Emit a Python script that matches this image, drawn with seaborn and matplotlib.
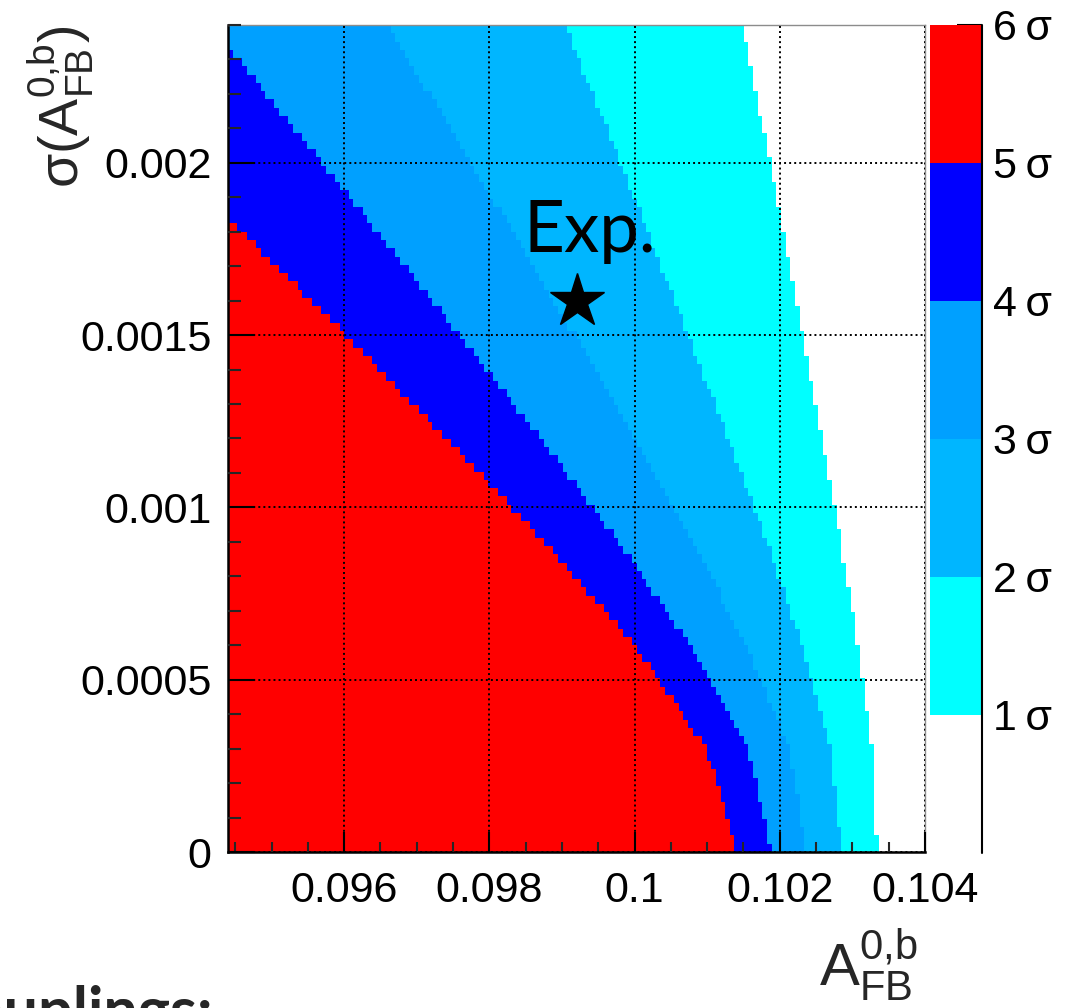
import numpy as np
import pandas as pd
import matplotlib
matplotlib.use("Agg")
import matplotlib.pyplot as plt
import seaborn as sns
from matplotlib.colors import ListedColormap, Normalize
from matplotlib.cm import ScalarMappable
from matplotlib.ticker import MultipleLocator

# ---------------- data ----------------
# sigma(A_FB) values at which the band edges were read
sigma_samples = [0.0, 0.0003, 0.0006, 0.0009, 0.0012, 0.0015, 0.0018, 0.0021, 0.0024]
# A_FB position of each n-sigma contour at those sigma values
edge_1sigma = [0.10334, 0.10327, 0.10308, 0.10284, 0.10259, 0.10232, 0.10205, 0.10177, 0.10149]
edge_2sigma = [0.10285, 0.10270, 0.10231, 0.10182, 0.10129, 0.10074, 0.10018, 0.09962, 0.09904]
edge_3sigma = [0.10237, 0.10213, 0.10154, 0.10080, 0.10000, 0.09917, 0.09832, 0.09746, 0.09660]
edge_4sigma = [0.10189, 0.10156, 0.10077, 0.09978, 0.09871, 0.09759, 0.09646, 0.09531, 0.09415]
edge_5sigma = [0.10141, 0.10099, 0.10000, 0.09876, 0.09741, 0.09602, 0.09459, 0.09315, 0.09170]

band_colors = ["#FFFFFF", "#00FFFF", "#00B6FF", "#00A0FF", "#0000FF", "#FF0000"]
cbar_ticks = [1, 2, 3, 4, 5, 6]
cbar_labels = ["1\u2009σ", "2\u2009σ", "3\u2009σ", "4\u2009σ", "5\u2009σ", "6\u2009σ"]

x_ticks = [0.096, 0.098, 0.100, 0.102, 0.104]
x_tick_labels = ["0.096", "0.098", "0.1", "0.102", "0.104"]
y_ticks = [0.0, 0.0005, 0.0010, 0.0015, 0.0020]
y_tick_labels = ["0", "0.0005", "0.001", "0.0015", "0.002"]

exp_A = 0.0992
exp_sigma = 0.0016

x_range = (0.0944, 0.1040)
y_range = (0.0, 0.0024)
n_xbins, n_ybins = 150, 100

# ---------------- style ----------------
sns.set_style("ticks")
plt.rcParams["font.family"] = ["Liberation Sans", "DejaVu Sans"]
plt.rcParams["mathtext.fontset"] = "custom"
plt.rcParams["mathtext.rm"] = "Liberation Sans"
plt.rcParams["mathtext.it"] = "Liberation Sans"
plt.rcParams["mathtext.bf"] = "Liberation Sans:bold"

W, H = 1082, 1008
fig = plt.figure(figsize=(W / 100, H / 100), dpi=100)


def fx(px):
    return px / W


def fy(py):
    return 1 - py / H


ax_l, ax_r, ax_t, ax_b = 228, 925, 25, 852
ax = fig.add_axes([fx(ax_l), fy(ax_b), (ax_r - ax_l) / W, (ax_b - ax_t) / H])

# ---------------- histogram cells ----------------
xedges = np.linspace(x_range[0], x_range[1], n_xbins + 1)
yedges = np.linspace(y_range[0], y_range[1], n_ybins + 1)
xc = 0.5 * (xedges[:-1] + xedges[1:])
yc = 0.5 * (yedges[:-1] + yedges[1:])
XX, YY = np.meshgrid(xc, yc)
band = np.zeros_like(XX)
for edge in [edge_1sigma, edge_2sigma, edge_3sigma, edge_4sigma, edge_5sigma]:
    band += (XX < np.interp(YY, sigma_samples, edge))
df = pd.DataFrame({"A": XX.ravel(), "s": YY.ravel(), "level": band.ravel() + 0.5})

cmap = ListedColormap(band_colors)
sns.histplot(data=df, x="A", y="s", weights="level", bins=[xedges, yedges],
             cmap=cmap, vmin=0, vmax=6, thresh=None, cbar=False, ax=ax)
ax.set_xlabel("")
ax.set_ylabel("")
ax.set_xlim(*x_range)
ax.set_ylim(*y_range)

# ticks
ax.set_xticks(x_ticks)
ax.set_xticklabels(x_tick_labels)
ax.set_yticks(y_ticks)
ax.set_yticklabels(y_tick_labels)
ax.xaxis.set_minor_locator(MultipleLocator(0.0005))
ax.yaxis.set_minor_locator(MultipleLocator(0.0001))
ax.tick_params(axis="x", which="major", direction="in", length=14.5, width=1.5,
               pad=14, labelsize=31, top=False, colors="black")
ax.tick_params(axis="x", which="minor", direction="in", length=7.2, width=1.5, top=False)
ax.tick_params(axis="y", which="major", direction="in", length=19.5, width=1.5,
               pad=12, labelsize=31, right=False, colors="black")
ax.tick_params(axis="y", which="minor", direction="in", length=9.5, width=1.5, right=False)

ax.grid(which="major", color="black", linestyle=(0, (1, 1.6)), linewidth=1.4)
ax.set_axisbelow(False)

for s in ["left", "bottom"]:
    ax.spines[s].set_color("black")
    ax.spines[s].set_linewidth(1.8)
for s in ["top", "right"]:
    ax.spines[s].set_color("#8c8c8c")
    ax.spines[s].set_linewidth(1.0)

# experimental point
ax.plot([exp_A], [exp_sigma], marker="*", markersize=41, color="black",
        linestyle="none", zorder=6)
fig.text(fx(523), fy(252), "Exp.", fontsize=51, family=["Lato", "DejaVu Sans"],
         ha="left", va="baseline", color="black")

# ---------------- colour bar ----------------
cax = fig.add_axes([fx(930), fy(853), 52 / W, (853 - 25) / H])
sm = ScalarMappable(norm=Normalize(0, 6), cmap=cmap)
cb = fig.colorbar(sm, cax=cax, ticks=cbar_ticks)
cb.set_ticklabels(cbar_labels)
cb.outline.set_visible(False)
cb.minorticks_off()
cax.tick_params(direction="in", length=18, width=1.5, pad=8, labelsize=31,
                right=True, left=False, colors="black")
cax.plot([1, 1], [0, 1], transform=cax.transAxes, color="black", lw=1.5, clip_on=False)

# ---------------- axis titles ----------------
fig.text(fx(918), fy(1004), r"$\mathrm{A}_{\mathrm{FB}}^{0{,}\mathrm{b}}$", fontsize=43,
         ha="right", va="bottom")
fig.text(fx(61), fy(25), r"σ($\mathrm{A}_{\mathrm{FB}}^{0{,}\mathrm{b}}$)", fontsize=40,
         rotation=90, ha="center", va="top")

# cut-off slide text at the bottom (clipped by the page edge, as in the reference)
fig.text(fx(213), fy(1030), "couplings:", fontsize=44, fontweight="bold",
         family=["Lato", "DejaVu Sans"], ha="right", va="baseline")

fig.savefig("out.png", dpi=100)
